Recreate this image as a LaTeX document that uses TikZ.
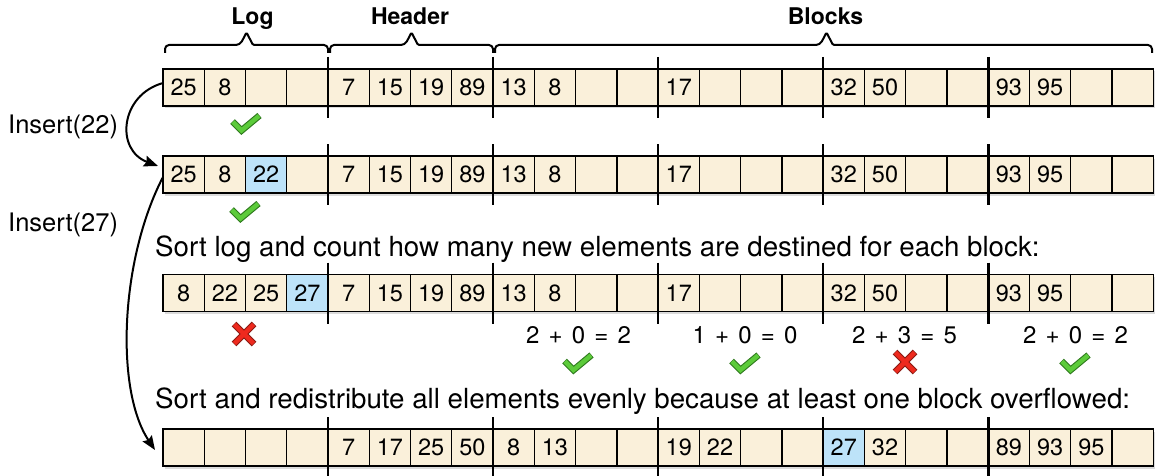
\documentclass[tikz,border=0pt]{standalone}
\usepackage{fontspec}
\setmainfont{TeX Gyre Heros}
\usetikzlibrary{arrows.meta,calc}
\definecolor{cream}{HTML}{FAF0DA}
\definecolor{lblue}{HTML}{BDE3F9}
\definecolor{okgreen}{HTML}{5CCB3A}
\definecolor{okdark}{HTML}{2F7A1E}
\definecolor{badred}{HTML}{EE2A1E}
\definecolor{baddark}{HTML}{8A1A12}
\newcommand\myfrmfont{\fontsize{24}{30}\selectfont\spaceskip 9.2pt plus 0pt minus 0pt\relax}
\tikzset{
  cell/.style={draw=black, line width=1.3pt, minimum width=41.26pt, minimum height=37pt,
    inner sep=0pt, outer sep=0pt, font=\fontsize{23.5}{28}\selectfont},
  cellc/.style={cell, fill=cream},
  cellb/.style={cell, fill=lblue},
  rowshadow/.style={fill=black, opacity=0.14},
  sep/.style={line width=2.6pt, line cap=butt},
  brace/.style={line width=2pt, line join=round},
  lbl/.style={font=\bfseries\fontsize{23}{27}\selectfont, inner sep=0pt},
  ins/.style={font=\fontsize{25.5}{30}\selectfont, inner sep=0pt},
  txt/.style={font=\fontsize{27.7}{32}\selectfont, inner sep=0pt},
  frm/.style={font=\myfrmfont, inner sep=0pt},
  insarrow/.style={line width=2pt, -{Stealth[length=14pt,width=11pt,inset=2pt]}},
  chk/.pic={
    \draw[okdark, line width=6.6pt, line join=miter] (-14,-2) -- (-5,7) -- (13,-8);
    \draw[okgreen, line width=4.4pt, line join=miter, shorten <=0.6pt, shorten >=0.6pt] (-14,-2) -- (-5,7) -- (13,-8);
  },
  crs/.pic={
    \draw[baddark, line width=6.6pt] (-10,-10) -- (10,10) (-10,10) -- (10,-10);
    \draw[badred, line width=4.4pt, shorten <=0.6pt, shorten >=0.6pt] (-10,-10) -- (10,10);
    \draw[badred, line width=4.4pt, shorten <=0.6pt, shorten >=0.6pt] (-10,10) -- (10,-10);
  }
}
\begin{document}
\begin{tikzpicture}[x=1pt,y=-1pt]
\useasboundingbox (0,0) rectangle (1156,476);

% shadows of the rows
\foreach \t in {69,156,274,429}{
  \fill[rowshadow] (164.5,\t+2.5) rectangle (1155,\t+39.5);
}

% row 1
\foreach \v/\f [count=\i from 0] in {25/c,8/c,{}/c,{}/c,7/c,15/c,19/c,89/c,13/c,8/c,{}/c,{}/c,17/c,{}/c,{}/c,{}/c,32/c,50/c,{}/c,{}/c,93/c,95/c,{}/c,{}/c}{
  \node[cell\f] (r1c\i) at ({163+41.26*(\i+0.5)},87.5) {\v};
}
% row 2
\foreach \v/\f [count=\i from 0] in {25/c,8/c,22/b,{}/c,7/c,15/c,19/c,89/c,13/c,8/c,{}/c,{}/c,17/c,{}/c,{}/c,{}/c,32/c,50/c,{}/c,{}/c,93/c,95/c,{}/c,{}/c}{
  \node[cell\f] (r2c\i) at ({163+41.26*(\i+0.5)},174.5) {\v};
}
% row 3
\foreach \v/\f [count=\i from 0] in {8/c,22/c,25/c,27/b,7/c,15/c,19/c,89/c,13/c,8/c,{}/c,{}/c,17/c,{}/c,{}/c,{}/c,32/c,50/c,{}/c,{}/c,93/c,95/c,{}/c,{}/c}{
  \node[cell\f] (r3c\i) at ({163+41.26*(\i+0.5)},293) {\v};
}
% row 4
\foreach \v/\f [count=\i from 0] in {{}/c,{}/c,{}/c,{}/c,7/c,17/c,25/c,50/c,8/c,13/c,{}/c,{}/c,19/c,22/c,{}/c,{}/c,27/b,32/c,{}/c,{}/c,89/c,93/c,95/c,{}/c}{
  \node[cell\f] (r4c\i) at ({163+41.26*(\i+0.5)},447.5) {\v};
}

% separators
\foreach \r in {1,2,3,4}{
  \foreach \k in {3,7,11,15,19}{
    \draw[sep] ($(r\r c\k.north east)+(0,-12)$) -- ($(r\r c\k.south east)+(0,12)$);
  }
}

% braces
\draw[brace, rounded corners=4pt] (165,53) -- (165,45) -- (240,45) [rounded corners=1.2pt] -- (246.5,32.5) -- (253,45) [rounded corners=4pt] -- (328,45) -- (328,53);
\draw[brace, rounded corners=4pt] (330,53) -- (330,45) -- (405,45) [rounded corners=1.2pt] -- (411.5,32.5) -- (418,45) [rounded corners=4pt] -- (493,45) -- (493,53);
\draw[brace, rounded corners=4pt] (495,53) -- (495,45) -- (820,45) [rounded corners=1.2pt] -- (826.5,32.5) -- (833,45) [rounded corners=4pt] -- (1152,45) -- (1152,53);

\node[lbl, anchor=base] (llog) at (252.5,25) {Log};
\node[lbl, anchor=base] (lhead) at (410,25) {Header};
\node[lbl, anchor=base] (lblk) at (825.5,25) {Blocks};

% insert labels and arrows
\node[ins, anchor=base west] (ins22) at (8,133.5) {Insert(22)};
\node[ins, anchor=base west] (ins27) at (8,231.5) {Insert(27)};
\coordinate (a1s) at ($(r1c0.west)+(0,-4.5)$);
\coordinate (a1e) at ($(r2c0.west)+(-5,-8.5)$);
\draw[insarrow] (a1s) .. controls (120,95) and (115,150) .. (a1e);
\coordinate (a2s) at ($(r2c0.west)+(0,2.5)$);
\coordinate (a2e) at ($(r4c0.west)+(-8,2.5)$);
\draw[insarrow] (a2s) .. controls (120,260) and (115,390) .. (a2e);

% sentences
\node[txt, anchor=base west] (s1) at (155,256.7) {Sort log and count how many new elements are destined for each block:};
\node[txt, anchor=base west] (s2) at (155,408) {Sort and redistribute all elements evenly because at least one block overflowed:};

% formulas
\node[frm, anchor=base] (f1) at (578.5,343.3) {2 + 0 = 2};
\node[frm, anchor=base] (f2) at (745,343.3) {1 + 0 = 0};
\node[frm, anchor=base] (f3) at (904.5,343.3) {2 + 3 = 5};
\node[frm, anchor=base] (f4) at (1075.5,343.3) {2 + 0 = 2};

% marks
\pic at (246.5,123.5) {chk};
\pic at (245.5,211.5) {chk};
\pic at (244,334) {crs};
\pic at (578.5,363) {chk};
\pic at (745.5,363) {chk};
\pic at (905,362) {crs};
\pic at (1075.5,363) {chk};
\end{tikzpicture}
\end{document}
